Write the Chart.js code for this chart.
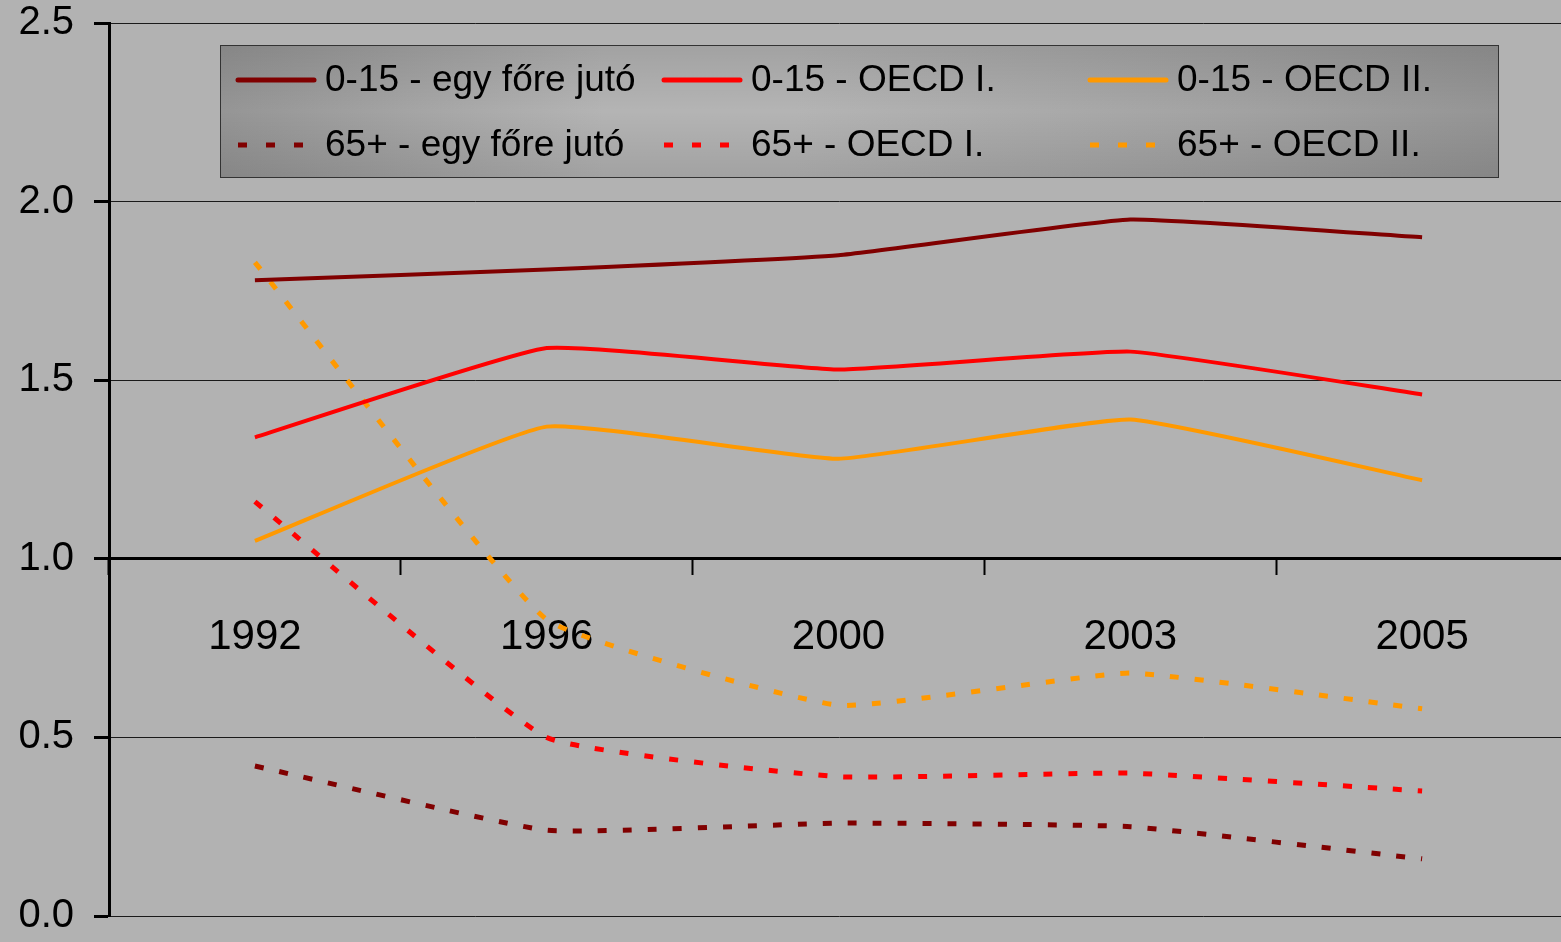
<!DOCTYPE html>
<html>
<head>
<meta charset="utf-8">
<script src="https://cdn.jsdelivr.net/npm/chart.js@4/dist/chart.umd.min.js"></script>
<style>
html, body { margin: 0; padding: 0; background: #b2b2b2; overflow: hidden; }
#wrap { width: 1568px; height: 981px; position: relative; margin-top: -21px; }
</style>
</head>
<body>
<div id="wrap"><canvas id="c"></canvas></div>
<script>
const years = ['1992', '1996', '2000', '2003', '2005'];

const kidsPerCapita = [1.78, 1.81, 1.85, 1.95, 1.90];
const kidsOecd1 = [1.34, 1.59, 1.53, 1.58, 1.46];
const kidsOecd2 = [1.05, 1.37, 1.28, 1.39, 1.22];
const oldPerCapita = [0.42, 0.24, 0.26, 0.25, 0.16];
const oldOecd1 = [1.16, 0.50, 0.39, 0.40, 0.35];
const oldOecd2 = [1.83, 0.83, 0.59, 0.68, 0.58];

const seriesLabels = [
    '0-15 - egy főre jutó', '0-15 - OECD I.', '0-15 - OECD II.',
    '65+ - egy főre jutó', '65+ - OECD I.', '65+ - OECD II.'
];
const yTicks = [0, 0.5, 1.0, 1.5, 2.0, 2.5];

const DARK = '#800000', RED = '#ff0000', ORANGE = '#ff9900';
const DASH = [9, 16];
const FONT = "'Liberation Sans', Arial, sans-serif";

function line(label, data, color, dashed) {
    return {
        label: label,
        data: data,
        borderColor: color,
        backgroundColor: color,
        borderWidth: dashed ? 5 : 4,
        borderDash: dashed ? DASH : [],
        borderCapStyle: 'butt',
        pointRadius: 0,
        tension: 0.12,
        fill: false
    };
}

// legend drawn inside the plot like the excel one
const boxLegend = {
    id: 'boxLegend',
    afterDraw(chart) {
        const ctx = chart.ctx;
        const off = 21; // canvas is shifted up by this much
        const x = 220, y = 45 + off, w = 1278, h = 132;
        ctx.save();
        let g = ctx.createLinearGradient(x, 0, x + w, 0);
        g.addColorStop(0, '#959595');
        g.addColorStop(0.3, '#b4b4b4');
        g.addColorStop(0.45, '#b4b4b4');
        g.addColorStop(0.8, '#a2a2a2');
        g.addColorStop(1, '#959595');
        ctx.fillStyle = g;
        ctx.fillRect(x, y, w, h);
        let v = ctx.createLinearGradient(0, y, 0, y + h);
        v.addColorStop(0, 'rgba(0,0,0,0.10)');
        v.addColorStop(0.5, 'rgba(0,0,0,0)');
        v.addColorStop(1, 'rgba(0,0,0,0.10)');
        ctx.fillStyle = v;
        ctx.fillRect(x, y, w, h);
        ctx.strokeStyle = '#333';
        ctx.lineWidth = 1;
        ctx.strokeRect(x + 0.5, y + 0.5, w, h);

        const cols = [238, 664, 1090];
        const rows = [80 + off, 145 + off];
        ctx.font = '37px ' + FONT;
        ctx.textBaseline = 'middle';
        ctx.fillStyle = '#000';
        chart.data.datasets.forEach((ds, i) => {
            const cx = cols[i % 3], cy = rows[Math.floor(i / 3)];
            ctx.beginPath();
            ctx.strokeStyle = ds.borderColor;
            ctx.lineWidth = 5;
            ctx.lineCap = ds.borderDash.length ? 'butt' : 'round';
            ctx.setLineDash(ds.borderDash.length ? [9, 19] : []);
            ctx.moveTo(cx, cy);
            ctx.lineTo(cx + 76, cy);
            ctx.stroke();
            ctx.setLineDash([]);
            ctx.fillText(ds.label, cx + 87, cy + 1);
        });
        ctx.restore();
    }
};

new Chart(document.getElementById('c'), {
    type: 'line',
    data: {
        labels: years,
        datasets: [
            line(seriesLabels[0], kidsPerCapita, DARK, false),
            line(seriesLabels[1], kidsOecd1, RED, false),
            line(seriesLabels[2], kidsOecd2, ORANGE, false),
            line(seriesLabels[3], oldPerCapita, DARK, true),
            line(seriesLabels[4], oldOecd1, RED, true),
            line(seriesLabels[5], oldOecd2, ORANGE, true)
        ]
    },
    options: {
        responsive: true,
        maintainAspectRatio: false,
        animation: false,
        layout: { padding: { left: 0, right: 0, top: 0, bottom: 4 } },
        plugins: { legend: { display: false }, tooltip: { enabled: false } },
        scales: {
            x: {
                position: { y: 1 },
                offset: true,
                grid: {
                    offset: true,
                    drawOnChartArea: false,
                    drawTicks: true,
                    tickLength: 15,
                    tickColor: '#000',
                    tickWidth: 2
                },
                border: { display: true, color: '#000', width: 3 },
                ticks: {
                    color: '#000',
                    font: { family: FONT, size: 42 },
                    padding: 38,
                    maxRotation: 0
                }
            },
            y: {
                min: 0,
                max: 2.5,
                afterFit(scale) { scale.width = 109; },
                afterBuildTicks(scale) { scale.ticks = yTicks.map(v => ({ value: v })); },
                grid: {
                    color: '#1a1a1a',
                    lineWidth: 1,
                    tickLength: 15,
                    tickColor: '#000',
                    tickWidth: 3
                },
                border: { display: true, color: '#000', width: 3 },
                ticks: {
                    color: '#000',
                    font: { family: FONT, size: 40 },
                    padding: 20,
                    callback: v => Number(v).toFixed(1)
                }
            }
        }
    },
    plugins: [boxLegend]
});
</script>
</body>
</html>
